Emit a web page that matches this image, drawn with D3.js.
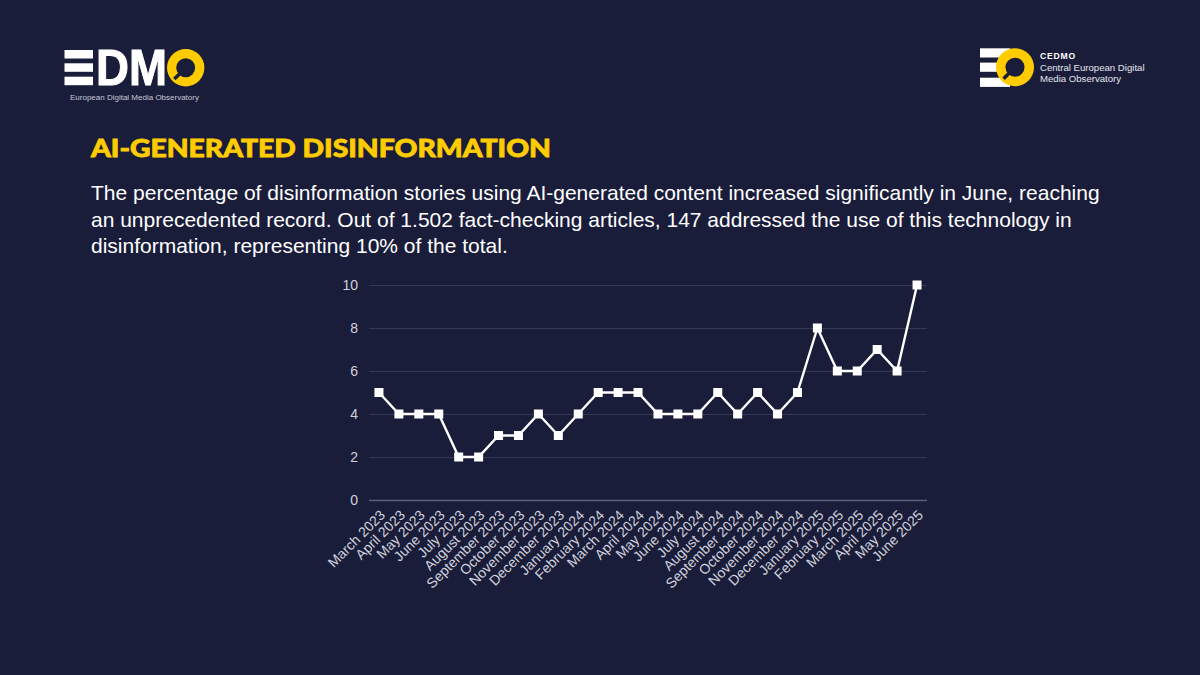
<!DOCTYPE html>
<html>
<head>
<meta charset="utf-8">
<script src="https://cdn.jsdelivr.net/npm/d3@7"></script>
<style>
  html, body { margin: 0; padding: 0; background: #1a1d3a; }
  svg { display: block; }
</style>
</head>
<body>
<div id="chart"></div>
<script>
var months = [
  "March 2023", "April 2023", "May 2023", "June 2023", "July 2023", "August 2023",
  "September 2023", "October 2023", "November 2023", "December 2023", "January 2024",
  "February 2024", "March 2024", "April 2024", "May 2024", "June 2024", "July 2024",
  "August 2024", "September 2024", "October 2024", "November 2024", "December 2024",
  "January 2025", "February 2025", "March 2025", "April 2025", "May 2025", "June 2025"
];
var shares = [5, 4, 4, 4, 2, 2, 3, 3, 4, 3, 4, 5, 5, 5, 4, 4, 4, 5, 4, 5, 4, 5, 8, 6, 6, 7, 6, 10];
var yTicks = [0, 2, 4, 6, 8, 10];
var title = "AI-GENERATED DISINFORMATION";
var bodyLines = [
  "The percentage of disinformation stories using AI-generated content increased significantly in June, reaching",
  "an unprecedented record. Out of 1.502 fact-checking articles, 147 addressed the use of this technology in",
  "disinformation, representing 10% of the total."
];

var bg = "#1a1d3a";
var yellow = "#ffcc00";
var sans = "'Liberation Sans', Arial, sans-serif";

var svg = d3.select("#chart").append("svg").attr("width", 1200).attr("height", 675);
svg.append("rect").attr("width", 1200).attr("height", 675).attr("fill", bg);

// yellow disc with a speech bubble shaped hole, used in both logos
function ring(g, cx, cy, r, hole) {
  g.append("circle").attr("cx", cx).attr("cy", cy).attr("r", r).attr("fill", yellow);
  g.append("circle").attr("cx", cx).attr("cy", cy).attr("r", hole).attr("fill", bg);
  g.append("line")
    .attr("x1", cx - hole * 0.6).attr("y1", cy + hole * 0.6)
    .attr("x2", cx - hole * 1.2).attr("y2", cy + hole * 1.2)
    .attr("stroke", bg).attr("stroke-width", 3.5);
}

// EDMO logo
var edmo = svg.append("g");
[50, 63.3, 76.7].forEach(function (y) {
  edmo.append("rect").attr("x", 64.5).attr("y", y).attr("width", 28.5).attr("height", 8.5).attr("fill", "#fff");
});
edmo.append("text").attr("x", 96).attr("y", 85).attr("textLength", 71).attr("lengthAdjust", "spacingAndGlyphs")
  .attr("font-family", sans).attr("font-weight", 700).attr("font-size", 50.5)
  .attr("fill", "#fff").attr("stroke", "#fff").attr("stroke-width", 1).text("DM");
ring(edmo, 185.7, 67.7, 18.7, 9.5);
edmo.append("text").attr("x", 70).attr("y", 100).attr("font-family", sans).attr("font-size", 8)
  .attr("fill", "#c6c8d6").text("European Digital Media Observatory");

// CEDMO logo
var cedmo = svg.append("g");
[48.3, 62.6, 77.7].forEach(function (y) {
  cedmo.append("rect").attr("x", 980).attr("y", y).attr("width", 30).attr("height", 9.2).attr("fill", "#fff");
});
ring(cedmo, 1015, 67.3, 19, 9.5);
cedmo.append("text").attr("x", 1040).attr("y", 59).attr("font-family", sans).attr("font-weight", 700)
  .attr("font-size", 8.6).attr("letter-spacing", 0.8).attr("fill", "#fff").text("CEDMO");
cedmo.append("text").attr("x", 1040).attr("y", 71).attr("font-family", sans).attr("font-size", 9.6)
  .attr("fill", "#e4e5ee").text("Central European Digital");
cedmo.append("text").attr("x", 1040).attr("y", 82).attr("font-family", sans).attr("font-size", 9.6)
  .attr("fill", "#e4e5ee").text("Media Observatory");

// heading and paragraph
svg.append("text").attr("x", 91).attr("y", 156.5)
  .attr("textLength", 460).attr("lengthAdjust", "spacingAndGlyphs")
  .attr("font-family", "Lato, sans-serif").attr("font-weight", 900).attr("font-size", 25.5)
  .attr("fill", yellow).attr("stroke", yellow).attr("stroke-width", 0.8).text(title);

svg.selectAll(".body-line").data(bodyLines).enter().append("text")
  .attr("class", "body-line")
  .attr("x", 91)
  .attr("y", function (d, i) { return 200 + i * 26.7; })
  .attr("font-family", sans).attr("font-size", 21)
  .attr("fill", "#fff")
  .text(function (d) { return d; });

// chart
var margin = { top: 285, right: 273, bottom: 175, left: 369 },
  width = 1200 - margin.left - margin.right,
  height = 675 - margin.top - margin.bottom;

var x = d3.scaleBand().domain(months).range([0, width]);
var y = d3.scaleLinear().domain([0, 10]).range([height, 0]);

var plot = svg.append("g").attr("transform", "translate(" + margin.left + "," + margin.top + ")");

var grid = plot.append("g").call(d3.axisLeft(y).tickValues(yTicks).tickSize(-width).tickPadding(11));
grid.select(".domain").remove();
grid.selectAll(".tick line").attr("stroke", "#353852").attr("stroke-width", 1);
grid.selectAll(".tick").filter(function (d) { return d === 0; }).select("line").attr("stroke", "#5c5f78").attr("stroke-width", 1.5);
grid.selectAll(".tick text").attr("font-family", sans).attr("font-size", 14).attr("fill", "#d0d1dc");

var xAxis = plot.append("g").attr("transform", "translate(0," + height + ")").call(d3.axisBottom(x).tickSize(0));
xAxis.select(".domain").remove();
xAxis.selectAll("text")
  .attr("font-family", sans).attr("font-size", 14).attr("fill", "#d0d1dc")
  .attr("text-anchor", "end")
  .attr("dx", "0").attr("dy", "0").attr("y", 0)
  .attr("transform", "translate(7,16) rotate(-45)");

var line = d3.line()
  .x(function (d, i) { return x(months[i]) + x.bandwidth() / 2; })
  .y(function (d) { return y(d); });

plot.append("path").datum(shares)
  .attr("fill", "none").attr("stroke", "#fff").attr("stroke-width", 2.4)
  .attr("d", line);

plot.selectAll(".pt").data(shares).enter().append("rect")
  .attr("class", "pt")
  .attr("x", function (d, i) { return x(months[i]) + x.bandwidth() / 2 - 4.5; })
  .attr("y", function (d) { return y(d) - 4.5; })
  .attr("width", 9).attr("height", 9)
  .attr("fill", "#fff");
</script>
</body>
</html>
